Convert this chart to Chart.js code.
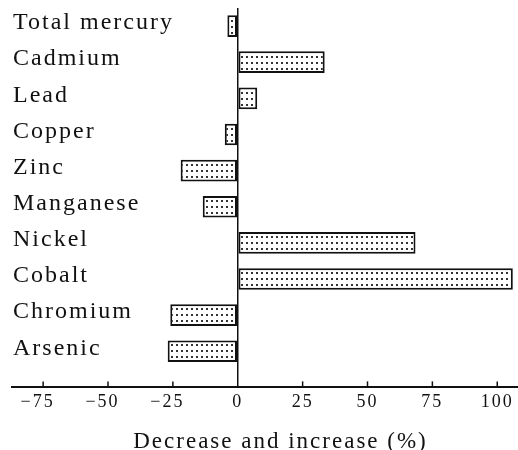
<!DOCTYPE html>
<html>
<head>
<meta charset="utf-8">
<script src="https://cdn.jsdelivr.net/npm/chart.js@4.4.1/dist/chart.umd.min.js"></script>
<style>
    html, body { margin: 0; padding: 0; background: #fff; }
    #wrap { width: 518px; height: 450px; }
</style>
</head>
<body>
<div id="wrap"><canvas id="metalChart"></canvas></div>
<script>
// Change per metal, top to bottom as in the figure
const metals = ['Total mercury', 'Cadmium', 'Lead', 'Copper', 'Zinc',
                'Manganese', 'Nickel', 'Cobalt', 'Chromium', 'Arsenic'];
const changePct = [-4, 33.5, 7.5, -5, -22, -13.5, 68.5, 106, -26, -27];
const xTicks = [-75, -50, -25, 0, 25, 50, 75, 100];
const axisTitle = 'Decrease and increase (%)';

const serif = "'Liberation Serif', 'Times New Roman', serif";

// dotted fill like the printed stipple
function makeStipple() {
    const c = document.createElement('canvas');
    c.width = 5;
    c.height = 6;
    const g = c.getContext('2d');
    g.fillStyle = '#fff';
    g.fillRect(0, 0, 5, 6);
    g.fillStyle = '#333';
    g.fillRect(1, 2, 2, 2);
    return g.createPattern(c, 'repeat');
}

// wide, airy type of the original
const spacing = {
    id: 'spacing',
    beforeDraw(chart) {
        chart.ctx.letterSpacing = '2px';
    }
};

// short tick marks pointing up from the axis line
const tickMarks = {
    id: 'tickMarks',
    afterDraw(chart) {
        const { ctx, chartArea, scales } = chart;
        ctx.save();
        ctx.strokeStyle = '#111';
        ctx.lineWidth = 1.5;
        xTicks.forEach(v => {
            if (v === 0) return;
            const px = scales.x.getPixelForValue(v);
            ctx.beginPath();
            ctx.moveTo(px, chartArea.bottom - 6);
            ctx.lineTo(px, chartArea.bottom);
            ctx.stroke();
        });
        ctx.restore();
    }
};

const ctx = document.getElementById('metalChart').getContext('2d');

new Chart(ctx, {
    type: 'bar',
    data: {
        datasets: [{
            data: changePct.map((v, i) => ({ x: v, y: i })),
            backgroundColor: makeStipple(),
            borderColor: '#111',
            borderWidth: 2,
            borderSkipped: false,
            barPercentage: 0.6,
            categoryPercentage: 1
        }]
    },
    options: {
        indexAxis: 'y',
        responsive: true,
        maintainAspectRatio: false,
        animation: false,
        layout: {
            padding: { left: 10, right: 0, top: 8, bottom: -3 }
        },
        plugins: {
            legend: { display: false },
            tooltip: { enabled: false }
        },
        scales: {
            x: {
                type: 'linear',
                min: -87,
                max: 108,
                afterBuildTicks: function (scale) {
                    scale.ticks = xTicks.map(v => ({ value: v }));
                },
                afterFit: function (scale) {
                    scale.paddingLeft = 0;
                    scale.paddingRight = 0;
                },
                grid: {
                    drawTicks: false,
                    color: function (c) {
                        return c.tick && c.tick.value === 0 ? '#111' : 'rgba(0,0,0,0)';
                    },
                    lineWidth: 1.5
                },
                border: { display: true, color: '#111', width: 2 },
                ticks: {
                    autoSkip: false,
                    maxRotation: 0,
                    padding: 4,
                    color: '#111',
                    font: { family: serif, size: 18 },
                    callback: function (value) {
                        return value < 0 ? '\u2212' + Math.abs(value) + '\u2007' : String(value);
                    }
                },
                title: {
                    display: true,
                    text: '    ' + axisTitle,
                    color: '#111',
                    font: { family: serif, size: 23, lineHeight: 1 },
                    padding: { top: 13, bottom: 0 }
                }
            },
            y: {
                type: 'linear',
                reverse: true,
                offset: false,
                min: -0.5,
                max: 10,
                afterBuildTicks: function (scale) {
                    scale.ticks = metals.map((m, i) => ({ value: i }));
                },
                afterFit: function (scale) {
                    scale.paddingTop = 0;
                    scale.paddingBottom = 0;
                },
                grid: { display: false, drawTicks: false, offset: false },
                border: { display: false },
                ticks: {
                    mirror: true,
                    padding: 1,
                    labelOffset: -3,
                    color: '#111',
                    font: { family: serif, size: 24 },
                    callback: function (value) {
                        return metals[value];
                    }
                }
            }
        }
    },
    plugins: [spacing, tickMarks]
});
</script>
</body>
</html>
